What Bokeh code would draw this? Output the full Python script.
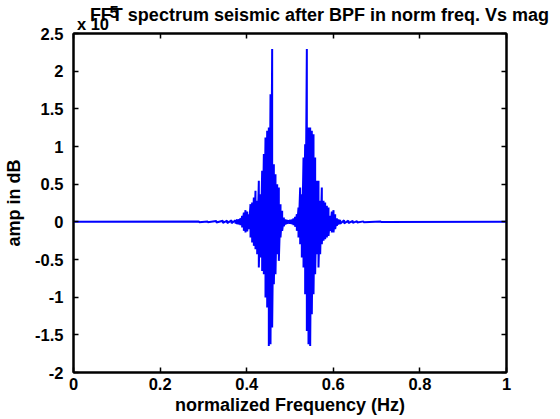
from bokeh.plotting import figure
from bokeh.models import LinearAxis, FixedTicker, Range1d, ColumnDataSource
from bokeh.embed import file_html
from bokeh.resources import INLINE

# ---- data (amplitude in units of 1e5) ----
freq = [0.0, 0.29, 0.31, 0.33, 0.345, 0.355, 0.365,
        0.3741, 0.3780, 0.3818, 0.3857, 0.3895, 0.3934, 0.3972, 0.4011, 0.4049, 0.4088,
        0.4126, 0.4165, 0.4203, 0.4242, 0.4280, 0.4319, 0.4357, 0.4396, 0.4434, 0.4473,
        0.4511, 0.4550, 0.4588, 0.4627, 0.4665, 0.4704, 0.4742, 0.4781, 0.4819, 0.4858,
        0.4896, 0.4935,
        0.4965, 0.5004, 0.5042, 0.5081, 0.5119, 0.5158, 0.5196, 0.5235, 0.5273, 0.5312,
        0.5350, 0.5389, 0.5427, 0.5466, 0.5504, 0.5543, 0.5581, 0.5620, 0.5658, 0.5697,
        0.5735, 0.5774, 0.5812, 0.5851, 0.5889, 0.5928, 0.5966, 0.6005, 0.6043, 0.6082,
        0.6120, 0.6159,
        0.625, 0.635, 0.645, 0.655, 0.67, 0.71, 1.0]

amp_upper = [0.0, 0.004, 0.006, 0.010, 0.014, 0.016, 0.020,
             0.022, 0.031, 0.035, 0.049, 0.080, 0.124, 0.155, 0.137, 0.102, 0.235,
             0.257, 0.323, 0.412, 0.279, 0.544, 0.367, 0.677, 0.899, 1.120, 1.209,
             1.253, 1.695, 2.293, 0.766, 0.633, 0.500, 0.456, 0.235, 0.146, 0.058,
             0.035, 0.027,
             0.022, 0.027, 0.031, 0.044, 0.066, 0.102, 0.190, 0.456, 0.367, 0.854,
             1.031, 2.293, 1.253, 1.253, 1.209, 1.164, 0.854, 0.544, 0.544, 0.279,
             0.456, 0.279, 0.257, 0.212, 0.190, 0.080, 0.137, 0.155, 0.102, 0.049,
             0.035, 0.027,
             0.020, 0.016, 0.014, 0.010, 0.006, 0.003, 0.0]

amp_lower = [0.0, -0.004, -0.006, -0.010, -0.014, -0.016, -0.020,
             -0.022, -0.031, -0.035, -0.044, -0.075, -0.120, -0.142, -0.128, -0.097, -0.208,
             -0.274, -0.319, -0.363, -0.429, -0.606, -0.473, -0.651, -0.695, -1.005, -1.138,
             -1.647, -1.625, -1.403, -0.828, -0.695, -0.429, -0.518, -0.208, -0.120, -0.058,
             -0.035, -0.027,
             -0.022, -0.027, -0.031, -0.044, -0.066, -0.120, -0.208, -0.297, -0.474, -0.606,
             -0.961, -1.448, -1.625, -1.647, -1.226, -0.961, -0.695, -0.429, -0.606, -0.429,
             -0.297, -0.252, -0.230, -0.208, -0.186, -0.120, -0.142, -0.142, -0.097, -0.053,
             -0.035, -0.027,
             -0.020, -0.016, -0.014, -0.010, -0.006, -0.003, 0.0]

x_ticks = [0, 0.2, 0.4, 0.6, 0.8, 1]
x_tick_labels = ["0", "0.2", "0.4", "0.6", "0.8", "1"]
y_ticks = [-2, -1.5, -1, -0.5, 0, 0.5, 1, 1.5, 2, 2.5]
y_tick_labels = ["-2", "-1.5", "-1", "-0.5", "0", "0.5", "1", "1.5", "2", "2.5"]

title_text = "FFT spectrum seismic after BPF in norm freq. Vs mag"
x_label = "normalized Frequency (Hz)"
y_label = "amp in dB"
exp_base = "x 10"
exp_power = "5"

# interleave upper/lower values so the line zig-zags like the dense spectrum
xs, ys = [], []
for f, u, l in zip(freq, amp_upper, amp_lower):
    xs += [f, f]
    ys += [u, l]
src = ColumnDataSource(dict(x=xs, y=ys))

FONT = "Liberation Sans"
TICK_FS = "16.5px"
LABEL_FS = "18px"

p = figure(width=560, height=419, output_backend="svg", toolbar_location=None,
           x_range=Range1d(0, 1), y_range=Range1d(-2, 2.5),
           min_border_left=73, min_border_right=54, min_border_top=33, min_border_bottom=47,
           x_axis_location=None, y_axis_location=None)
p.background_fill_color = "white"
p.border_fill_color = "white"
p.grid.visible = False
p.outline_line_color = "black"
p.outline_line_width = 2

p.line("x", "y", source=src, line_color="#0000FF", line_width=2)


def style_axis(ax, label_size=TICK_FS):
    ax.axis_line_color = "black"
    ax.axis_line_width = 2
    ax.major_tick_in = 5
    ax.major_tick_out = 0
    ax.major_tick_line_width = 1.5
    ax.minor_tick_line_color = None
    ax.major_label_text_font = FONT
    ax.major_label_text_font_style = "bold"
    ax.major_label_text_font_size = label_size
    ax.major_label_text_color = "black"
    ax.axis_label_text_font = FONT
    ax.axis_label_text_font_style = "bold"
    ax.axis_label_text_font_size = LABEL_FS
    ax.axis_label_text_color = "black"


xb = LinearAxis(ticker=FixedTicker(ticks=x_ticks),
                major_label_overrides={t: s for t, s in zip(x_ticks, x_tick_labels)},
                axis_label=x_label)
style_axis(xb)
xb.major_label_standoff = 5
xb.axis_label_standoff = 2
p.add_layout(xb, "below")

yl = LinearAxis(ticker=FixedTicker(ticks=y_ticks),
                major_label_overrides={t: s for t, s in zip(y_ticks, y_tick_labels)},
                axis_label=y_label)
style_axis(yl)
yl.major_label_standoff = 10
yl.axis_label_standoff = 8
p.add_layout(yl, "left")

# box ticks on top and right, without labels
xt = LinearAxis(ticker=FixedTicker(ticks=x_ticks))
style_axis(xt)
xt.major_label_text_color = None
xt.major_label_standoff = 0
p.add_layout(xt, "above")

yr = LinearAxis(ticker=FixedTicker(ticks=y_ticks))
style_axis(yr)
yr.major_label_text_color = None
yr.major_label_standoff = 0
p.add_layout(yr, "right")


def text_row(pos, txt, standoff, size=TICK_FS):
    ax = LinearAxis(ticker=FixedTicker(ticks=[pos]), major_label_overrides={pos: txt})
    style_axis(ax, size)
    ax.axis_line_color = None
    ax.major_tick_line_color = None
    ax.major_tick_in = 0
    ax.major_tick_out = 0
    ax.major_label_standoff = standoff
    p.add_layout(ax, "above")


# MATLAB-style exponent label "x 10^5" and the title, above the frame
text_row(0.045, exp_base, 1)
text_row(0.094, exp_power, -6)
text_row(0.568, title_text, -22, LABEL_FS)

open("out.html", "w").write(file_html(p, INLINE))
